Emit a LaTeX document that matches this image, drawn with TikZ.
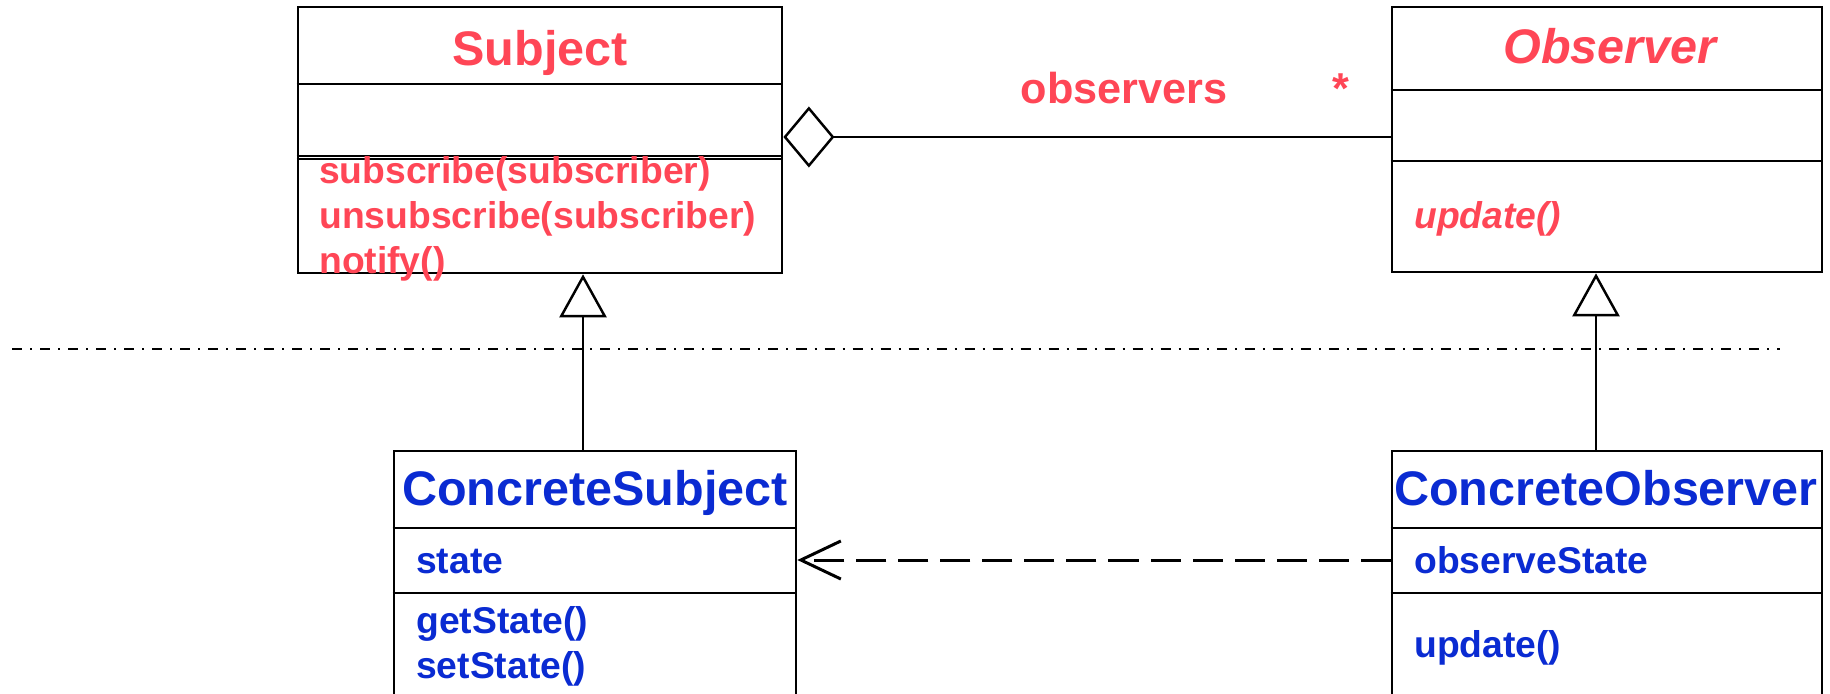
\documentclass[tikz,border=0pt]{standalone}
\usepackage{fontspec}
\setmainfont{Liberation Sans}
\usetikzlibrary{arrows.meta}

\definecolor{Watermelon}{HTML}{FF4656}
\definecolor{Cobalt}{HTML}{0A2BD2}

\begin{document}
\begin{tikzpicture}[x=0.01cm, y=-0.01cm, line width=0.7pt,
        classbox/.style={draw, inner sep=0pt},
        classname/.style={anchor=base, inner sep=0pt, font=\fontsize{13.8}{16}\selectfont\bfseries},
        member/.style={anchor=base west, inner sep=0pt, font=\fontsize{10.6}{13}\selectfont\bfseries}]
        \useasboundingbox (0,0) rectangle (1830,694);
        \clip (0,0) rectangle (1830,694);

        % abstract classes
        \node[classbox, minimum width=4.84cm, minimum height=2.66cm] (subject) at (540,140) {};
        \draw (subject.west |- 0,84) -- (subject.east |- 0,84);
        \draw (subject.west |- 0,156) -- (subject.east |- 0,156);
        \draw (subject.west |- 0,159) -- (subject.east |- 0,159);
        \node[classname, Watermelon] (subjectname) at (540,65) {Subject};
        \node[member, Watermelon] (subscribe) at (318,183) {subscribe(subscriber)};
        \node[member, Watermelon] (unsubscribe) at (318,228) {unsubscribe(subscriber)};
        \node[member, Watermelon] (notify) at (318,273) {notify()};

        \node[classbox, minimum width=4.30cm, minimum height=2.65cm] (observer) at (1607,139.5) {};
        \draw (observer.west |- 0,90) -- (observer.east |- 0,90);
        \draw (observer.west |- 0,161) -- (observer.east |- 0,161);
        \node[classname, Watermelon, font=\fontsize{13.8}{16}\selectfont\bfseries\itshape] (observername) at (1610,63) {Observer};
        \node[member, Watermelon, font=\fontsize{10.6}{13}\selectfont\bfseries\itshape] (update) at (1413,228) {update()};

        % concrete classes
        \node[classbox, minimum width=4.02cm, minimum height=2.69cm] (csubject) at (595,585.5) {};
        \draw (csubject.west |- 0,528) -- (csubject.east |- 0,528);
        \draw (csubject.west |- 0,593) -- (csubject.east |- 0,593);
        \node[classname, Cobalt] (csubjectname) at (595,505) {ConcreteSubject};
        \node[member, Cobalt] (state) at (415,573) {state};
        \node[member, Cobalt] (getstate) at (415,633) {getState()};
        \node[member, Cobalt] (setstate) at (415,678) {setState()};

        \node[classbox, minimum width=4.30cm, minimum height=2.69cm] (cobserver) at (1607,585.5) {};
        \draw (cobserver.west |- 0,528) -- (cobserver.east |- 0,528);
        \draw (cobserver.west |- 0,593) -- (cobserver.east |- 0,593);
        \node[classname, Cobalt] (cobservername) at (1606,505) {ConcreteObserver};
        \node[member, Cobalt] (observestate) at (1413,573) {observeState};
        \node[member, Cobalt] (cupdate) at (1413,657) {update()};

        % relations
        \draw[-{Diamond[open, length=0.51cm, width=0.61cm]}] (observer.west |- 0,137) -- (subject.east |- 0,137);
        \node[anchor=base, inner sep=0pt, Watermelon, font=\fontsize{12.3}{14}\selectfont\bfseries] (observerslabel) at (1124,103) {observers};
        \node[anchor=base, inner sep=0pt, Watermelon, font=\fontsize{12.3}{14}\selectfont\bfseries] (many) at (1341,103) {*};

        \draw[-{Triangle[open, length=0.43cm, width=0.47cm]}] (csubject.north -| 583,0) -- (subject.south -| 583,0);
        \draw[-{Triangle[open, length=0.43cm, width=0.47cm]}] (cobserver.north -| 1596,0) -- (observer.south -| 1596,0);

        \draw[line width=0.85pt, dash pattern=on 0.30cm off 0.12cm, -{Straight Barb[length=0.4cm, width=0.38cm]}] (cobserver.west |- 0,560) -- (csubject.east |- 0,560);

        \draw[line width=0.8pt, dash pattern=on 0.1cm off 0.08cm on 0.02cm off 0.08cm] (12,349) -- (1780,349);
\end{tikzpicture}
\end{document}
